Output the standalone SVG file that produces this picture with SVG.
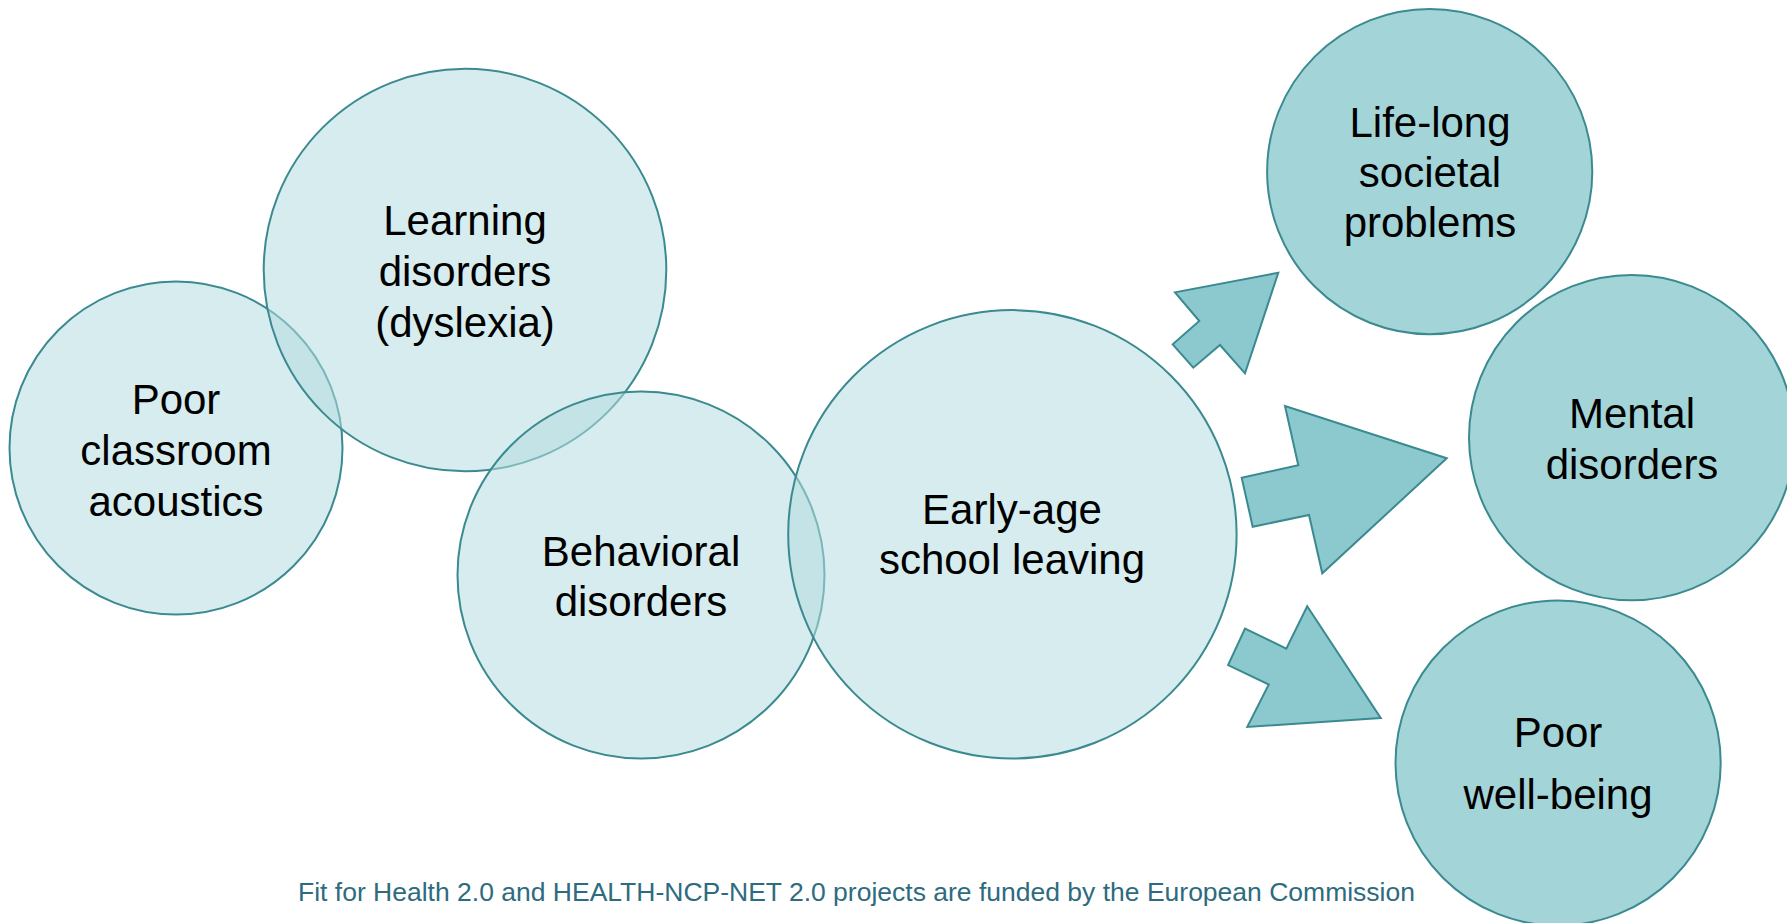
<svg xmlns="http://www.w3.org/2000/svg" width="1787" height="923" viewBox="0 0 1787 923">
<style>
.lc{fill:#b3dcdf;fill-opacity:0.54;stroke:#3a8a90;stroke-width:2}
.rc{fill:#a2d4d8;stroke:#3a8a90;stroke-width:2}
.ar{fill:#8cc9cf;stroke:#3a8a90;stroke-width:2;stroke-linejoin:miter}
.t{font-family:"Liberation Sans",Arial,sans-serif;font-size:42px;fill:#000;text-anchor:middle}
.f{font-family:"Liberation Sans",Arial,sans-serif;font-size:26.5px;fill:#2e6b7e;text-anchor:middle}
</style>
<rect width="1787" height="923" fill="#fff"/>
<g id="node-acoustics">
<circle class="lc" cx="176" cy="448" r="166.5"/>
<text class="t" x="176" y="414">Poor</text>
<text class="t" x="176" y="465">classroom</text>
<text class="t" x="176" y="516">acoustics</text>
</g>
<g id="node-learning">
<circle class="lc" cx="465" cy="270" r="201.3"/>
<text class="t" x="465" y="235">Learning</text>
<text class="t" x="465" y="286">disorders</text>
<text class="t" x="465" y="337">(dyslexia)</text>
</g>
<g id="node-behavioral">
<circle class="lc" cx="641" cy="575" r="183.5"/>
<text class="t" x="641" y="566">Behavioral</text>
<text class="t" x="641" y="616">disorders</text>
</g>
<g id="node-early">
<circle class="lc" cx="1012.4" cy="534.3" r="224.2"/>
<text class="t" x="1012" y="524">Early-age</text>
<text class="t" x="1012" y="574">school leaving</text>
</g>
<g id="node-lifelong">
<circle class="rc" cx="1429.7" cy="171.6" r="162.6"/>
<text class="t" x="1430" y="137">Life-long</text>
<text class="t" x="1430" y="187">societal</text>
<text class="t" x="1430" y="237">problems</text>
</g>
<g id="node-mental">
<circle class="rc" cx="1631.7" cy="437.6" r="162.7"/>
<text class="t" x="1632" y="428">Mental</text>
<text class="t" x="1632" y="479">disorders</text>
</g>
<g id="node-wellbeing">
<circle class="rc" cx="1558.1" cy="763" r="162.6"/>
<text class="t" x="1558" y="747">Poor</text>
<text class="t" x="1558" y="809">well-being</text>
</g>
<g id="connectors">
<polygon class="ar" points="1278.3,272.7 1245,373.3 1220,345 1193.3,367.7 1172.7,344.3 1199.3,321 1175,292.3"/>
<polygon class="ar" points="1446.7,458.3 1322.3,573.3 1309,515 1252.7,526.7 1241.7,477.7 1298.3,465.3 1285,406"/>
<polygon class="ar" points="1380.8,718.1 1247.3,726.9 1268.8,684.5 1228.1,665.1 1245,628.6 1286.3,648.6 1307.2,606.2"/>
</g>
<text class="f" x="856.5" y="901">Fit for Health 2.0 and HEALTH-NCP-NET 2.0 projects are funded by the European Commission</text>
</svg>
